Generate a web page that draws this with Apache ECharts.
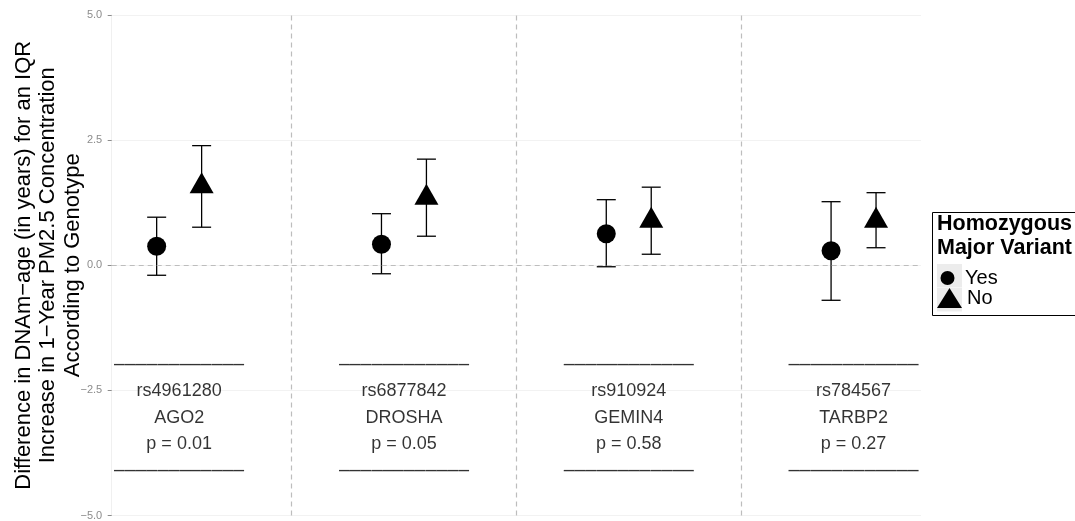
<!DOCTYPE html>
<html>
<head>
<meta charset="utf-8">
<title>DNAm-age difference by genotype</title>
<script src="https://cdn.jsdelivr.net/npm/echarts@6/dist/echarts.min.js"></script>
<style>
  html, body { margin: 0; padding: 0; background: #ffffff; }
  #chart { width: 1075px; height: 521px; }
</style>
</head>
<body>
<div id="chart"></div>
<script>
// Genotype groups (SNP, gene, interaction p-value)
const snps = ['rs4961280', 'rs6877842', 'rs910924', 'rs784567'];
const genes = ['AGO2', 'DROSHA', 'GEMIN4', 'TARBP2'];
const pValues = ['p = 0.01', 'p = 0.05', 'p = 0.58', 'p = 0.27'];

// Homozygous major variant: Yes
const yesEst = [0.38, 0.42, 0.63, 0.29];
const yesLow = [-0.20, -0.17, -0.03, -0.70];
const yesHigh = [0.96, 1.03, 1.31, 1.27];

// Homozygous major variant: No
const noEst = [1.58, 1.35, 0.89, 0.89];
const noLow = [0.76, 0.58, 0.22, 0.35];
const noHigh = [2.39, 2.12, 1.56, 1.45];

// Y axis ticks
const yTicks = [-5, -2.5, 0, 2.5, 5];

// Vertical position of the text block under each group
const labelY = -3.05;

const FONT = '"Liberation Sans", Arial, Helvetica, sans-serif';
const DODGE = 0.1;
const groupX = snps.map((_, i) => i + 1);
const dividers = groupX.slice(0, -1).map(x => x + 0.5);
const dashRow = '\u2013'.repeat(12);

const yesPts = groupX.map((x, i) => [x - DODGE, yesEst[i]]);
const noPts = groupX.map((x, i) => [x + DODGE, noEst[i]]);
const yesErr = groupX.map((x, i) => [x - DODGE, yesLow[i], yesHigh[i]]);
const noErr = groupX.map((x, i) => [x + DODGE, noLow[i], noHigh[i]]);
const labelPts = groupX.map((x, i) => ({ value: [x, labelY], snp: snps[i], gene: genes[i], p: pValues[i] }));

function errorBar(params, api) {
  const x = api.value(0);
  const lo = api.coord([x, api.value(1)]);
  const hi = api.coord([x, api.value(2)]);
  const half = 9.5;
  const style = { stroke: '#000', lineWidth: 1.3 };
  return {
    type: 'group',
    children: [
      { type: 'line', shape: { x1: lo[0], y1: lo[1], x2: hi[0], y2: hi[1] }, style },
      { type: 'line', shape: { x1: lo[0] - half, y1: lo[1], x2: lo[0] + half, y2: lo[1] }, style },
      { type: 'line', shape: { x1: hi[0] - half, y1: hi[1], x2: hi[0] + half, y2: hi[1] }, style }
    ]
  };
}

const dashedStyle = { color: '#bdbdbd', width: 1.2, type: [5, 4] };

const option = {
  animation: false,
  backgroundColor: '#ffffff',
  textStyle: { fontFamily: FONT },
  grid: { left: 111.7, right: 154, top: 15, bottom: 5.5, containLabel: false, outerBoundsMode: 'none' },
  xAxis: {
    type: 'value', min: 0.7, max: 4.3,
    axisLine: { show: false }, axisTick: { show: false },
    axisLabel: { show: false }, splitLine: { show: false }
  },
  yAxis: {
    type: 'value', min: yTicks[0], max: yTicks[yTicks.length - 1], interval: 2.5,
    name: 'Difference in DNAm\u2212age (in years) for an IQR\nIncrease in 1\u2212Year PM2.5 Concentration\nAccording to Genotype',
    nameLocation: 'middle', nameRotate: 90, nameGap: 27, nameMoveOverlap: false,
    nameTextStyle: { fontSize: 22, lineHeight: 24.5, color: '#000', fontFamily: FONT },
    axisLine: { show: true, lineStyle: { color: '#f0f0f0', width: 1 } },
    axisTick: { show: true, length: 4, lineStyle: { color: '#8c8c8c', width: 1 } },
    axisLabel: {
      color: '#8c8c8c', fontSize: 11, margin: 9.5,
      formatter: v => (v < 0 ? '\u2212' : '') + Math.abs(v).toFixed(1)
    },
    splitLine: { show: true, lineStyle: { color: '#f2f2f2', width: 1 } }
  },
  legend: [
    {
      data: [{ name: 'Yes', icon: 'circle' }],
      left: 940.5, top: 268, padding: 0, itemWidth: 25, itemHeight: 14,
      selectedMode: false,
      textStyle: { fontSize: 20, color: '#000', fontFamily: FONT }
    },
    {
      data: [{ name: 'No', icon: 'triangle' }],
      left: 937, top: 288, padding: 0, itemWidth: 25, itemHeight: 20,
      selectedMode: false,
      textStyle: { fontSize: 20, color: '#000', fontFamily: FONT }
    }
  ],
  graphic: [
    {
      type: 'rect', z: -1, silent: true,
      shape: { x: 932.5, y: 212.5, width: 160, height: 103 },
      style: { fill: '#ffffff', stroke: '#000', lineWidth: 1 }
    },
    { type: 'rect', z: 0, silent: true, shape: { x: 937, y: 264, width: 25, height: 23 }, style: { fill: '#ececec' } },
    { type: 'rect', z: 0, silent: true, shape: { x: 937, y: 287.5, width: 25, height: 24 }, style: { fill: '#ececec' } },
    {
      type: 'text', z: 1, silent: true, x: 937, y: 212.5,
      style: {
        text: 'Homozygous\nMajor Variant', fill: '#000',
        font: 'bold 21.5px ' + FONT, lineHeight: 23.7,
        textAlign: 'left', textVerticalAlign: 'top'
      }
    }
  ],
  series: [
    {
      type: 'scatter', name: 'guides', data: labelPts, symbolSize: 0, silent: true, z: 1,
      label: {
        show: true, position: 'inside', color: '#000',
        formatter: p => ['{d|' + dashRow + '}', '{t|' + p.data.snp + '}', '{t|' + p.data.gene + '}', '{t|' + p.data.p + '}', '{d|' + dashRow + '}'].join('\n'),
        rich: {
          d: { fontSize: 19.5, lineHeight: 26.5, color: '#000', fontFamily: FONT },
          t: { fontSize: 18, lineHeight: 26.5, color: '#000', fontFamily: FONT }
        }
      },
      markLine: {
        silent: true, symbol: 'none', label: { show: false },
        lineStyle: dashedStyle,
        data: [{ yAxis: 0 }].concat(dividers.map(x => ({ xAxis: x })))
      }
    },
    { type: 'custom', name: 'Yes CI', renderItem: errorBar, data: yesErr, z: 2, silent: true },
    { type: 'custom', name: 'No CI', renderItem: errorBar, data: noErr, z: 2, silent: true },
    {
      type: 'scatter', name: 'Yes', data: yesPts, symbol: 'circle', symbolSize: 19, z: 3,
      itemStyle: { color: '#000', opacity: 1 }
    },
    {
      type: 'scatter', name: 'No', data: noPts, symbol: 'triangle', symbolSize: [24, 21], symbolOffset: [0, -3.5], z: 3,
      itemStyle: { color: '#000', opacity: 1 }
    }
  ]
};

const chart = echarts.init(document.getElementById('chart'), null, { renderer: 'canvas' });
chart.setOption(option);
</script>
</body>
</html>
